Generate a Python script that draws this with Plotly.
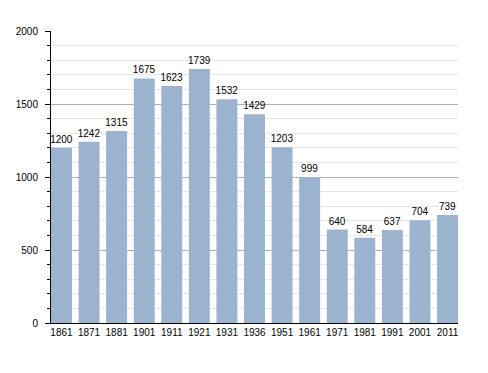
import plotly.graph_objects as go

years = ["1861", "1871", "1881", "1901", "1911", "1921", "1931", "1936",
         "1951", "1961", "1971", "1981", "1991", "2001", "2011"]
population = [1200, 1242, 1315, 1675, 1623, 1739, 1532, 1429,
              1203, 999, 640, 584, 637, 704, 739]
y_ticks = [0, 500, 1000, 1500, 2000]

FONT = "Liberation Sans, Arial, sans-serif"

fig = go.Figure()
fig.add_trace(go.Bar(
    x=years, y=population,
    marker=dict(color="#9cb3cf", line=dict(width=0)),
    text=[str(v) for v in population],
    textposition="outside",
    textfont=dict(family=FONT, size=10, color="#000"),
    cliponaxis=False,
))

# page body has an 8px margin, so the figure is sized/offset to compensate
fig.update_layout(
    width=480, height=365,
    margin=dict(l=43, r=30, t=23, b=50, autoexpand=False),
    paper_bgcolor="white", plot_bgcolor="white",
    bargap=0.24,
    showlegend=False,
    uniformtext=dict(minsize=10, mode="show"),
    font=dict(family=FONT, size=10, color="#000"),
)
fig.update_xaxes(
    type="category", range=[-0.38, 14.38], automargin=False,
    showline=True, linecolor="#000", linewidth=1,
    ticks="", showgrid=False, tickfont=dict(size=10, color="#000"),
)
fig.update_yaxes(
    range=[0, 2000], tickvals=y_ticks, automargin=False,
    showline=True, linecolor="#000", linewidth=1,
    ticks="outside", ticklen=5, tickcolor="#000",
    ticklabelstandoff=5,
    showgrid=True, gridcolor="#b0b0b0", gridwidth=1,
    zeroline=False,
    minor=dict(dtick=100, ticks="outside", ticklen=3, tickcolor="#000",
               showgrid=True, gridcolor="#e6e6e6", gridwidth=1),
    tickfont=dict(size=10, color="#000"),
)

fig.write_html("out.html")
